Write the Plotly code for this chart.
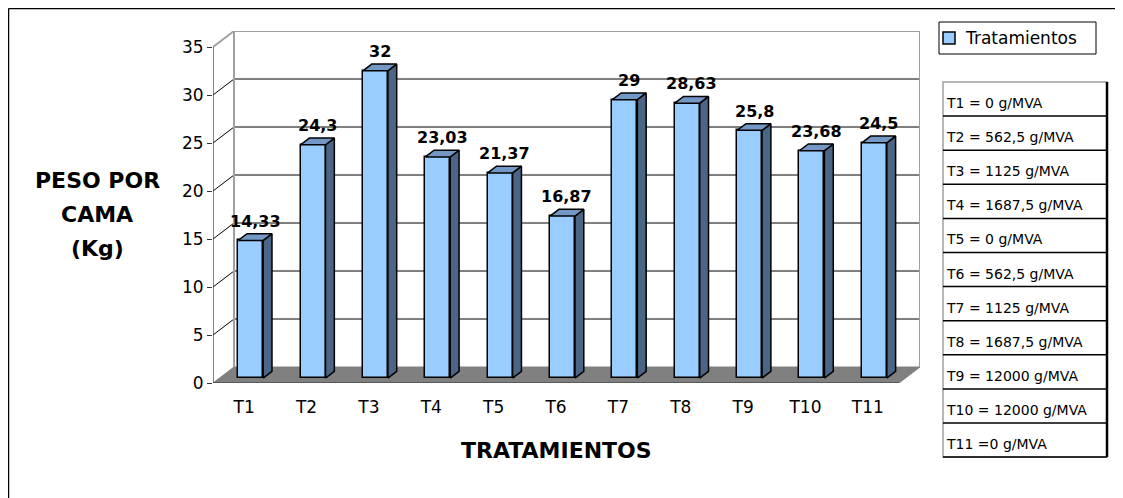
import plotly.graph_objects as go

# ---------------- data ----------------
categories = ["T1", "T2", "T3", "T4", "T5", "T6", "T7", "T8", "T9", "T10", "T11"]
values = [14.33, 24.3, 32, 23.03, 21.37, 16.87, 29, 28.63, 25.8, 23.68, 24.5]
y_ticks = [0, 5, 10, 15, 20, 25, 30, 35]
series_name = "Tratamientos"
table_labels = [
    "T1 = 0 g/MVA", "T2 = 562,5 g/MVA", "T3 = 1125 g/MVA", "T4 = 1687,5 g/MVA",
    "T5 = 0 g/MVA", "T6 = 562,5 g/MVA", "T7 = 1125 g/MVA", "T8 = 1687,5 g/MVA",
    "T9 = 12000 g/MVA", "T10 = 12000 g/MVA", "T11 =0 g/MVA",
]
x_title = "TRATAMIENTOS"
y_title_lines = ["PESO POR", "CAMA", "(Kg)"]

# ---------------- layout constants ----------------
OFF = 8                      # page body offset of the figure
W, H = 1123 - 2 * OFF, 498 - OFF
PLOT_L, PLOT_T = 213, 31     # target screen position of plot area
PW, PH = 707, 352
ML, MT = PLOT_L - OFF, PLOT_T - OFF
MR, MB = W - ML - PW, H - MT - PH
n = len(categories)
YMAX = y_ticks[-1]
DX = 21 / 62.36      # depth offset in x units
DY = 16 / 9.6        # depth offset in y units
F0, F1 = 0.31, 0.73  # bar front/back depth fractions
BW = 0.40
FONT = "DejaVu Sans"

FRONT = "#99CCFF"
SIDE = "#4A6586"
TOP = "#7398C6"
FLOOR = "#808080"
WALL_EDGE = "#A0A0A0"


def px2x(px):
    return (px - PLOT_L) / PW


def py2y(py):
    return (PLOT_T + PH - py) / PH


idx = list(range(n))
fig = go.Figure()

# front faces of the bars
fig.add_trace(go.Bar(
    x=[i + F0 * DX for i in idx], y=values, base=[F0 * DY] * n, width=BW,
    marker=dict(color=FRONT, line=dict(color="black", width=1.5)),
    name=series_name, showlegend=False, hoverinfo="skip",
))

# side and top faces
ddx, ddy = (F1 - F0) * DX, (F1 - F0) * DY
for i, v in zip(idx, values):
    xl = i + F0 * DX - BW / 2
    xr = i + F0 * DX + BW / 2
    yb = F0 * DY
    yt = v + F0 * DY
    fig.add_trace(go.Scatter(
        x=[xr, xr + ddx, xr + ddx, xr, xr], y=[yb, yb + ddy, yt + ddy, yt, yb],
        fill="toself", fillcolor=SIDE, mode="lines",
        line=dict(color="black", width=1.5), showlegend=False, hoverinfo="skip",
    ))
    fig.add_trace(go.Scatter(
        x=[xl, xr, xr + ddx, xl + ddx, xl], y=[yt, yt, yt + ddy, yt + ddy, yt],
        fill="toself", fillcolor=TOP, mode="lines",
        line=dict(color="black", width=1.5), showlegend=False, hoverinfo="skip",
    ))

shapes = []
x_front0, x_front1 = -0.5, n - 0.5
x_back0, x_back1 = x_front0 + DX, x_front1 + DX

# back wall
shapes.append(dict(type="rect", xref="x", yref="y", x0=x_back0, x1=x_back1, y0=DY, y1=YMAX + DY,
                   fillcolor="white", line=dict(width=0), layer="below"))
# floor
shapes.append(dict(type="path", xref="x", yref="y",
                   path=f"M {x_front0},0 L {x_front1},0 L {x_back1},{DY} L {x_back0},{DY} Z",
                   fillcolor=FLOOR, line=dict(color=FLOOR, width=1), layer="below"))
# gridlines on back wall and left wall
for v in y_ticks[1:]:
    col, wd = ("black", 1) if v < YMAX else (WALL_EDGE, 2)
    shapes.append(dict(type="line", xref="x", yref="y", x0=x_back0, x1=x_back1, y0=v + DY, y1=v + DY,
                       line=dict(color=col, width=wd), layer="below"))
    shapes.append(dict(type="line", xref="x", yref="y", x0=x_front0, x1=x_back0, y0=v, y1=v + DY,
                       line=dict(color=col, width=wd), layer="below"))
# back wall vertical edges
for xv in (x_back0, x_back1):
    shapes.append(dict(type="line", xref="x", yref="y", x0=xv, x1=xv, y0=DY, y1=YMAX + DY,
                       line=dict(color=WALL_EDGE, width=2), layer="below"))
# front value axis line
shapes.append(dict(type="line", xref="x", yref="y", x0=x_front0, x1=x_front0, y0=0, y1=YMAX,
                   line=dict(color="#333333", width=1.2), layer="above"))
# front floor edge (category axis)
shapes.append(dict(type="line", xref="x", yref="y", x0=x_front0, x1=x_front1, y0=0, y1=0,
                   line=dict(color="#333333", width=1.2), layer="above"))
# category boundary ticks
for k in range(n + 1):
    xb = x_front0 + k
    shapes.append(dict(type="line", xref="x", yref="y", x0=xb, x1=xb,
                       ysizemode="pixel", yanchor=0, y0=0, y1=-7,
                       line=dict(color="#333333", width=1.2), layer="above"))

# outer frame of the chart area
shapes.append(dict(type="line", xref="paper", yref="paper", x0=px2x(8.5), x1=px2x(1300),
                   y0=py2y(8.5), y1=py2y(8.5), line=dict(color="black", width=1.5)))
shapes.append(dict(type="line", xref="paper", yref="paper", x0=px2x(8.5), x1=px2x(8.5),
                   y0=py2y(8.5), y1=py2y(700), line=dict(color="black", width=1.5)))

# legend box (drawn)
LG_L, LG_R, LG_T, LG_B = 939, 1096, 22, 54
shapes.append(dict(type="rect", xref="paper", yref="paper",
                   x0=px2x(LG_L), x1=px2x(LG_R), y0=py2y(LG_T), y1=py2y(LG_B),
                   fillcolor="white", line=dict(color="black", width=1)))
shapes.append(dict(type="rect", xref="paper", yref="paper",
                   x0=px2x(943), x1=px2x(955), y0=py2y(32), y1=py2y(44),
                   fillcolor=FRONT, line=dict(color="black", width=1.5)))

# table of treatments
TBL_L, TBL_R, TBL_T, ROW_H = 943, 1107, 82, 34.1
shapes.append(dict(type="rect", xref="paper", yref="paper",
                   x0=px2x(TBL_L), x1=px2x(TBL_R), y0=py2y(TBL_T), y1=py2y(TBL_T + ROW_H * len(table_labels)),
                   fillcolor="white", line=dict(color=WALL_EDGE, width=1.5)))
for k in range(1, len(table_labels) + 1):
    yy = py2y(TBL_T + ROW_H * k)
    shapes.append(dict(type="line", xref="paper", yref="paper", x0=px2x(TBL_L), x1=px2x(TBL_R),
                       y0=yy, y1=yy, line=dict(color="black", width=1.5)))
shapes.append(dict(type="line", xref="paper", yref="paper", x0=px2x(TBL_R), x1=px2x(TBL_R),
                   y0=py2y(TBL_T), y1=py2y(TBL_T + ROW_H * len(table_labels)),
                   line=dict(color="black", width=2.5)))

annotations = []
# value labels
for i, v in zip(idx, values):
    annotations.append(dict(
        x=i + (F0 + F1) / 2 * DX, y=v + F1 * DY, xref="x", yref="y",
        text=f"<b>{v:g}</b>".replace(".", ","), showarrow=False,
        yanchor="bottom", yshift=1, font=dict(family=FONT, size=16, color="black"),
    ))
# legend text
annotations.append(dict(x=px2x(963), y=py2y(38), xref="paper", yref="paper", text=series_name,
                        showarrow=False, xanchor="left", yanchor="middle",
                        font=dict(family=FONT, size=17, color="black")))
# table texts
for k, lab in enumerate(table_labels):
    annotations.append(dict(
        x=px2x(TBL_L + 1), y=py2y(TBL_T + ROW_H * k + 21), xref="paper", yref="paper",
        text=lab, showarrow=False, xanchor="left", yanchor="middle",
        font=dict(family=FONT, size=14, color="black"),
    ))
# axis titles
annotations.append(dict(x=px2x(556), y=py2y(450), xref="paper", yref="paper", text=f"<b>{x_title}</b>",
                        showarrow=False, xanchor="center", yanchor="middle",
                        font=dict(family=FONT, size=22, color="black")))
for line_txt, cy in zip(y_title_lines, [180, 214, 248]):
    annotations.append(dict(x=px2x(97), y=py2y(cy), xref="paper", yref="paper", text=f"<b>{line_txt}</b>",
                            showarrow=False, xanchor="center", yanchor="middle",
                            font=dict(family=FONT, size=22, color="black")))

fig.update_layout(
    width=W, height=H,
    margin=dict(l=ML, r=MR, t=MT, b=MB, pad=0),
    paper_bgcolor="white", plot_bgcolor="white",
    font=dict(family=FONT, color="black"),
    xaxis=dict(range=[x_front0, x_back1], tickvals=idx, ticktext=categories,
               showgrid=False, zeroline=False, showline=False,
               ticks="outside", ticklen=9, tickcolor="rgba(0,0,0,0)",
               tickfont=dict(family=FONT, size=17, color="black"), fixedrange=True),
    yaxis=dict(range=[0, YMAX + DY], tickvals=y_ticks, ticktext=[str(t) for t in y_ticks],
               showgrid=False, zeroline=False, showline=False,
               ticks="outside", ticklen=5, tickcolor="#333333", tickwidth=1.2,
               tickfont=dict(family=FONT, size=17, color="black"), fixedrange=True),
    showlegend=False,
    shapes=shapes, annotations=annotations,
    bargap=0,
)

fig.write_html("out.html")
